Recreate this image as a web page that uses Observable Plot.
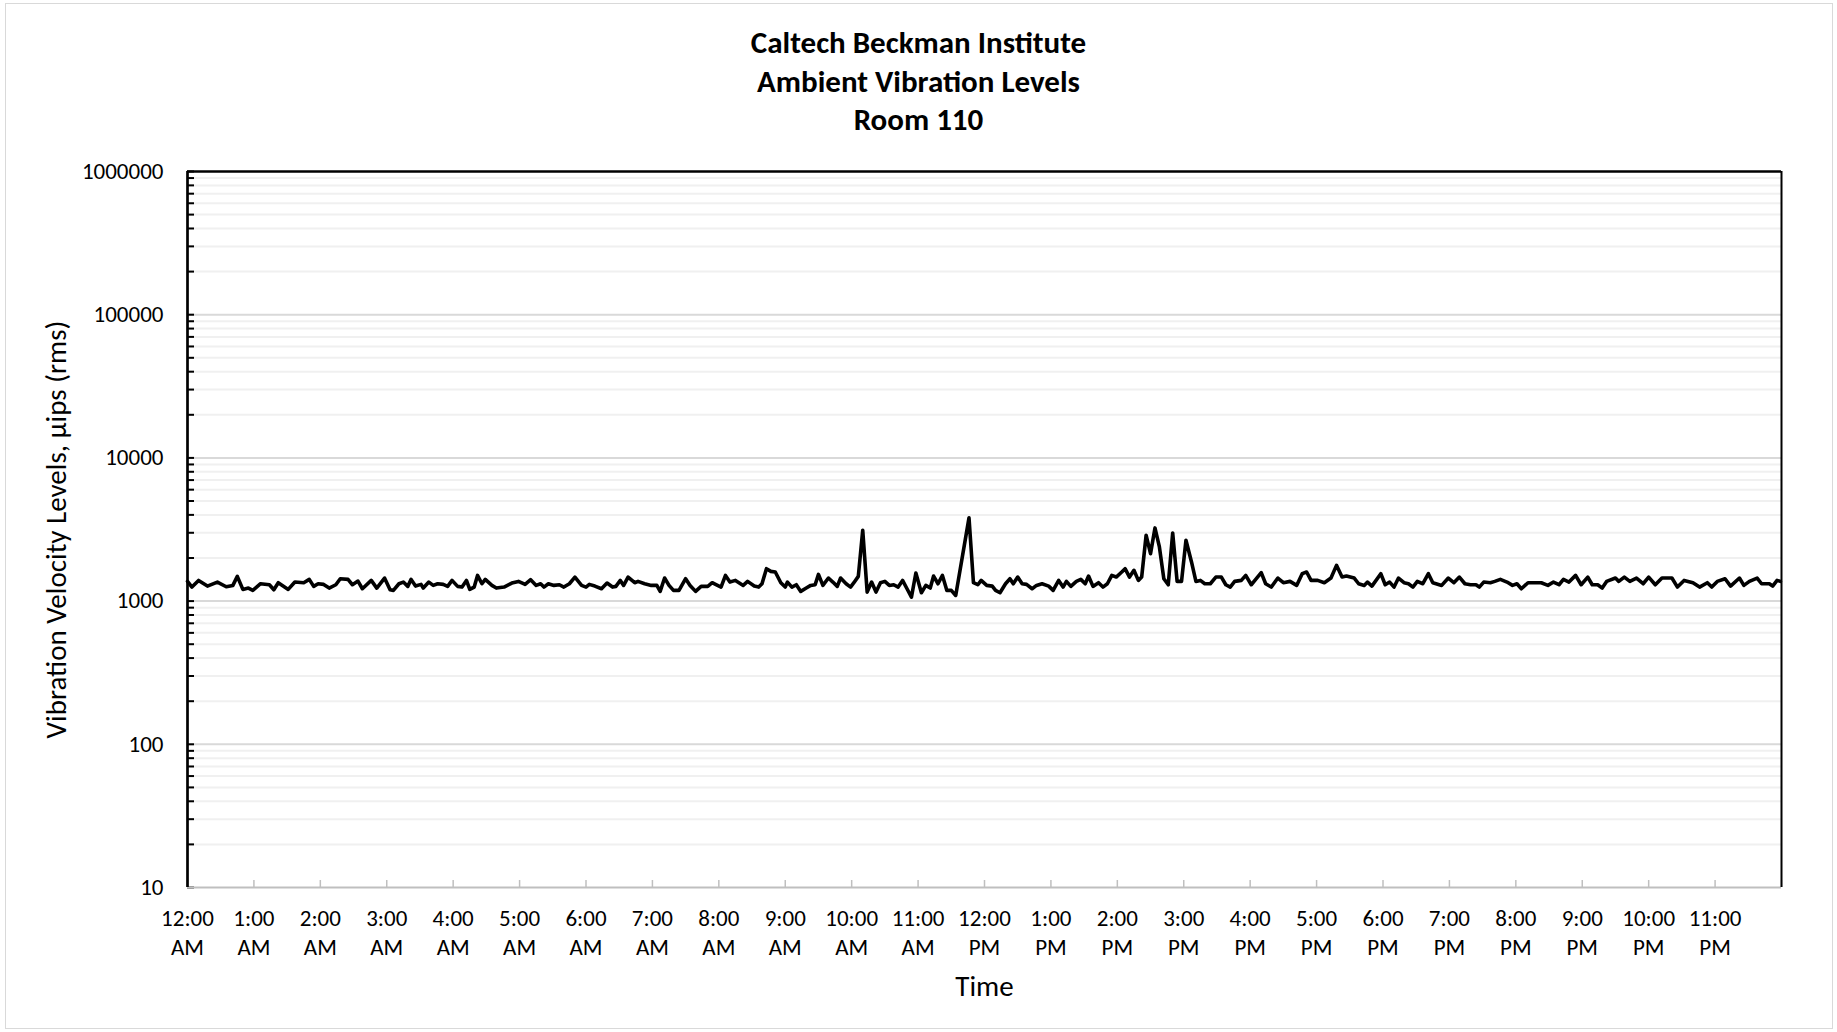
<!DOCTYPE html>
<html>
<head>
<meta charset="utf-8">
<script src="https://cdn.jsdelivr.net/npm/d3@7"></script>
<script src="https://cdn.jsdelivr.net/npm/@observablehq/plot@0.6"></script>
<style>
  html, body { margin: 0; padding: 0; background: #fff; }
  #page { position: relative; width: 1837px; height: 1032px; background: #fff; overflow: hidden; font-family: Carlito, Lato, "Open Sans", sans-serif; }
  #border { position: absolute; left: 5px; top: 3px; width: 1828px; height: 1026px; border: 1px solid #d9d9d9; box-sizing: border-box; }
  .title { position: absolute; left: 0; width: 1837px; text-align: center; font-weight: 700; font-size: 31px; line-height: 31px; color: #000; }
  #chart { position: absolute; left: 0; top: 140px; }
</style>
</head>
<body>
<div id="page">
  <div id="border"></div>
  <div class="title" style="top:27px">Caltech Beckman Institute</div>
  <div class="title" style="top:66px">Ambient Vibration Levels</div>
  <div class="title" style="top:104px">Room 110</div>
  <div id="chart"></div>
</div>
<script>
// ---- Data ----
// time of day in minutes after midnight
const minutes = [
  0,4,10,18,27,35,41,45,50,55,59,66,74,78,82,91,97,105,110,114,118,123,128,134,138,145,149,154,158,166,171,178,183,186,191,195,199,202,206,211,213,218,222,226,231,235,239,244,248,252,255,259,262,266,269,275,279,286,293,299,305,310,315,319,322,326,331,336,340,345,350,356,360,363,368,374,379,384,387,391,394,398,404,407,413,419,424,427,431,435,439,444,450,454,459,464,470,474,
  477,482,486,490,495,502,506,512,516,519,523,527,531,536,540,542,546,550,554,559,563,567,570,574,579,583,587,590,595,599,602,606,610,614,618,622,626,630,634,638,642,646,650,654,658,663,667,671,674,678,682,686,690,694,706,710,714,717,722,727,730,734,739,743,746,750,754,758,763,767,772,778,782,787,791,794,798,803,807,811,814,818,823,827,831,835,839,844,847,851,855,859,862,866,870,874,878,882,886,890,894,898,902,907,911,915,919,924,929,934,938,942,946,952,
  956,961,965,970,974,979,985,990,996,1002,1007,1011,1015,1021,1027,1033,1038,1043,1047,1054,1058,1063,1066,1070,1078,1082,1086,1090,1094,1099,1103,1107,1111,1116,1121,1125,1133,1139,1144,1149,1154,1159,1164,1167,1171,1177,1181,1186,1192,1197,1201,1205,1211,1223,1229,1234,1239,1243,1248,1254,1259,1265,1269,1274,1278,1282,1290,1293,1298,1303,1309,1315,1320,1326,1332,1341,1346,1352,1360,1366,1373,1377,1382,1389,1394,1402,1406,1411,1418,1422,1429,1432,1436,1439
];
// vibration velocity, µips (rms)
const velocity = [
  1373,1253,1395,1273,1358,1260,1287,1488,1207,1233,1188,1322,1301,1200,1344,1207,1358,1344,1418,1267,1322,1308,1233,1301,1433,1418,1301,1380,1220,1395,1233,1449,1200,1188,1322,1358,1267,1418,1273,1308,1233,1358,1287,1322,1308,1267,1395,1267,1253,1395,1207,1253,1512,1322,1418,1287,1233,1253,1337,1373,1308,1410,1287,1322,1253,1322,1287,1301,1253,1322,1472,1287,1253,1308,1273,1220,1337,1253,1267,1395,1287,1472,1344,1373,1322,1287,1287,1169,1449,1287,1188,1188,1433,1287,1169,1267,1267,1344,
  1308,1253,1512,1358,1395,1287,1373,1273,1253,1322,1684,1613,1596,1344,1253,1358,1253,1301,1169,1233,1287,1301,1537,1287,1449,1358,1267,1449,1322,1253,1344,1488,3124,1156,1358,1156,1344,1373,1287,1301,1253,1395,1220,1067,1570,1144,1287,1233,1496,1322,1512,1188,1188,1095,3811,1344,1301,1395,1287,1273,1188,1144,1322,1433,1322,1472,1322,1308,1220,1287,1322,1273,1188,1395,1253,1373,1267,1373,1418,1322,1496,1267,1344,1253,1322,1512,1472,1596,1684,1472,1640,1395,1472,2882,2144,3243,2388,1433,1301,2992,1373,1373,2659,1876,1373,1395,1322,1322,1472,1472,1301,1253,1373,1395,
  1512,1301,1418,1579,1322,1253,1449,1344,1373,1287,1554,1596,1395,1395,1344,1449,1777,1472,1496,1449,1322,1287,1358,1273,1554,1301,1358,1253,1449,1344,1322,1253,1373,1322,1554,1344,1287,1449,1344,1472,1322,1301,1301,1253,1358,1344,1373,1418,1358,1287,1322,1220,1344,1344,1287,1358,1301,1418,1358,1512,1301,1472,1301,1301,1233,1373,1449,1373,1472,1373,1449,1322,1472,1301,1449,1449,1253,1395,1344,1253,1344,1253,1373,1433,1273,1449,1287,1373,1449,1322,1322,1273,1395,1373
];
// y axis: decades labelled, with minor lines
const yMajor = [10, 100, 1000, 10000, 100000, 1000000];
const yMinor = [20,30,40,50,60,70,80,90,200,300,400,500,600,700,800,900,2000,3000,4000,5000,6000,7000,8000,9000,20000,30000,40000,50000,60000,70000,80000,90000,200000,300000,400000,500000,600000,700000,800000,900000];
// x axis: one tick per hour
const hourTicks = [0,60,120,180,240,300,360,420,480,540,600,660,720,780,840,900,960,1020,1080,1140,1200,1260,1320,1380];
const hourLabels = ["12:00 AM","1:00 AM","2:00 AM","3:00 AM","4:00 AM","5:00 AM","6:00 AM","7:00 AM","8:00 AM","9:00 AM","10:00 AM","11:00 AM","12:00 PM","1:00 PM","2:00 PM","3:00 PM","4:00 PM","5:00 PM","6:00 PM","7:00 PM","8:00 PM","9:00 PM","10:00 PM","11:00 PM"];
const xTickMarks = hourTicks.concat([1440]);

const yTitle = "Vibration Velocity Levels, µips (rms)";
const xTitle = "Time";

const data = minutes.map((m, i) => ({minute: m, value: velocity[i]}));
const labelOf = new Map(hourTicks.map((t, i) => [t, hourLabels[i]]));

const W = 1837, H = 892;
const mL = 187, mR = 56, mT = 31, mB = 145;
const innerW = W - mL - mR, innerH = H - mT - mB;

const chart = Plot.plot({
  width: W, height: H,
  marginLeft: mL, marginRight: mR, marginTop: mT, marginBottom: mB,
  style: {fontFamily: "Carlito, Lato, 'Open Sans', sans-serif", fontSize: "23px", color: "#000", background: "transparent", overflow: "visible"},
  x: {domain: [0, 1440], axis: null, label: null},
  y: {type: "log", domain: [10, 1000000], axis: null, label: null},
  marks: [
    Plot.gridY(yMinor, {stroke: "#f0f0f0", strokeOpacity: 1, strokeWidth: 2}),
    Plot.gridY(yMajor.filter(v => v > 10 && v < 1000000), {stroke: "#d9d9d9", strokeOpacity: 1, strokeWidth: 2}),
    // y ticks pointing inside from the left axis
    Plot.tickY(yMinor.concat(yMajor), {y: d => d, stroke: "#000", strokeWidth: 2, insetRight: innerW - 7}),
    // x axis line and ticks pointing up
    Plot.ruleY([10], {stroke: "#bfbfbf", strokeWidth: 2}),
    Plot.tickX(xTickMarks, {x: d => d, stroke: "#bfbfbf", strokeWidth: 1.5, insetTop: innerH - 7}),
    // data
    Plot.line(data, {x: "minute", y: "value", stroke: "#000", strokeWidth: 3.6, strokeLinejoin: "round", strokeLinecap: "round"}),
    // plot area border
    Plot.ruleY([1000000], {stroke: "#000", strokeWidth: 2.5}),
    Plot.ruleX([0], {stroke: "#000", strokeWidth: 2.7, y1: 10, y2: 1000000}),
    Plot.ruleX([1440], {stroke: "#000", strokeWidth: 2, y1: 10, y2: 1000000}),
    // y tick labels
    Plot.axisY(yMajor, {anchor: "left", tickSize: 0, tickPadding: 24, tickFormat: d3.format("d"), fontSize: 23, label: null}),
    // x tick labels, two lines
    Plot.axisX(hourTicks, {anchor: "bottom", tickSize: 0, tickPadding: 22, tickFormat: d => labelOf.get(d).split(" ")[0], fontSize: 23, label: null}),
    Plot.axisX(hourTicks, {anchor: "bottom", tickSize: 0, tickPadding: 51, tickFormat: d => labelOf.get(d).split(" ")[1], fontSize: 23, label: null}),
    // axis titles
    Plot.text([yTitle], {frameAnchor: "left", dx: -131, rotate: -90, textAnchor: "middle", lineAnchor: "middle", fontSize: 29, fill: "#000"}),
    Plot.text([xTitle], {frameAnchor: "bottom", dy: 99, textAnchor: "middle", lineAnchor: "middle", fontSize: 29, fill: "#000"})
  ]
});
document.getElementById("chart").appendChild(chart);
</script>
</body>
</html>
